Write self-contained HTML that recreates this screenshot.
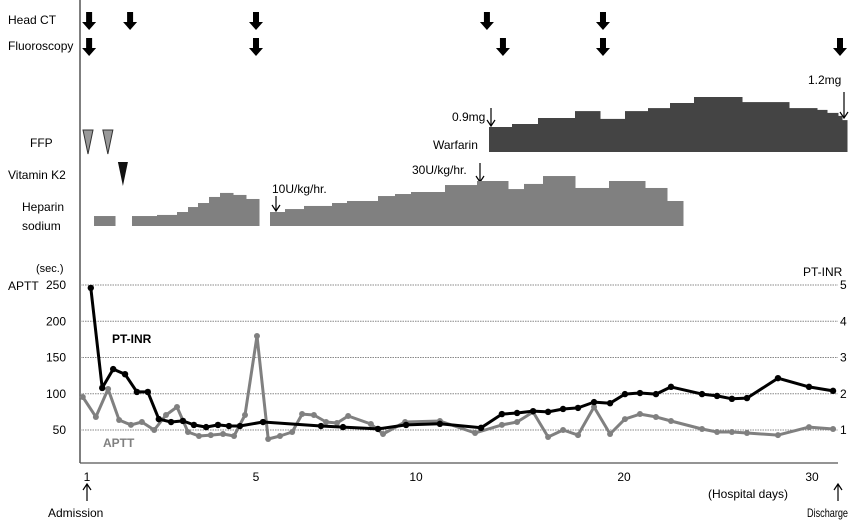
<!DOCTYPE html>
<html><head><meta charset="utf-8">
<style>
html,body{margin:0;padding:0;background:#fff;}
svg{display:block;font-family:"Liberation Sans",sans-serif;font-size:12px;}
</style></head>
<body>
<svg id="chart" width="850" height="524" viewBox="0 0 850 524" xmlns="http://www.w3.org/2000/svg">
<g id="static">
<line x1="80" y1="0" x2="80" y2="463" stroke="#555" stroke-width="1.5"/>
<line x1="80" y1="463" x2="838" y2="463" stroke="#555" stroke-width="1.2"/>
<text x="8" y="24">Head CT</text>
<text x="8" y="50">Fluoroscopy</text>
<text x="30" y="147">FFP</text>
<text x="8" y="179">Vitamin K2</text>
<text x="22" y="211">Heparin</text>
<text x="22" y="230">sodium</text>
<text x="433" y="149">Warfarin</text>
<text x="452" y="121">0.9mg</text>
<path d="M491,108 V126 M487,120 L491,126 L495,120" fill="none" stroke="#000" stroke-width="1.2"/>
<text x="808" y="84">1.2mg</text>
<path d="M844,92 V118 M840,112 L844,118 L848,112" fill="none" stroke="#000" stroke-width="1.2"/>
<text x="272" y="193">10U/kg/hr.</text>
<path d="M276,196 V211 M272,205 L276,211 L280,205" fill="none" stroke="#000" stroke-width="1.2"/>
<text x="412" y="174">30U/kg/hr.</text>
<path d="M480,163 V182 M476,176 L480,182 L484,176" fill="none" stroke="#000" stroke-width="1.2"/>
<text x="8" y="290">APTT</text>
<text x="36" y="272" font-size="11">(sec.)</text>
<text x="803" y="276">PT-INR</text>
<text x="112" y="343" font-weight="bold">PT-INR</text>
<text x="103" y="447" fill="#808080" font-weight="bold">APTT</text>
<text x="708" y="498">(Hospital days)</text>
<path d="M87,501 V484 M83,490 L87,484 L91,490" fill="none" stroke="#000" stroke-width="1.2"/>
<text x="48" y="517">Admission</text>
<path d="M838,501 V484 M834,490 L838,484 L842,490" fill="none" stroke="#000" stroke-width="1.2"/>
<text x="848" y="517" text-anchor="end" textLength="41" lengthAdjust="spacingAndGlyphs">Discharge</text>
</g>
<g id="dyn"></g>
</svg>
<script>
const dayTicks=[1,5,10,20,30];
const dayTickPx=[87,256,416,624,812];
const apttTicks=[250,200,150,100,50];
const inrTicks=[5,4,3,2,1];
const headCtDays=[1.05,2.02,5,13.41,18.99];
const fluoroDays=[1.05,5,14.18,18.99,31.49];
const inrDays=[1.09,1.36,1.62,1.9,2.18,2.44,2.7,2.99,3.27,3.53,3.82,4.1,4.36,4.62,5.22,7.03,7.72,8.81,9.69,11.15,13.13,14.13,14.86,15.63,16.35,17.07,17.79,18.56,19.33,20.05,20.85,21.7,22.5,24.15,24.95,25.74,26.54,28.19,29.84,31.12];
const inrValues=[4.92,2.16,2.68,2.54,2.05,2.05,1.3,1.22,1.25,1.14,1.08,1.14,1.11,1.11,1.22,1.11,1.08,1.03,1.14,1.17,1.06,1.44,1.47,1.52,1.5,1.58,1.61,1.77,1.74,1.99,2.02,1.99,2.19,1.99,1.94,1.86,1.88,2.43,2.19,2.08];
const apttDays=[0.9,1.21,1.5,1.76,2.04,2.3,2.59,2.87,3.13,3.39,3.65,3.93,4.22,4.48,4.74,5.03,5.38,5.75,6.13,6.44,6.81,7.19,7.53,7.88,8.59,8.97,9.66,11.15,12.84,14.13,14.86,15.63,16.35,17.07,17.79,18.56,19.33,20.05,20.85,21.7,22.5,24.15,24.95,25.74,26.54,28.19,29.84,31.12];
const apttValues=[95.5,68,106.6,63.8,57,61,50,70.7,81.7,47.2,41.7,43,44.5,41.7,70.7,179.7,37.6,41.7,47.2,72,70.7,61,59.7,69.3,58.3,44.5,61,62.4,45.9,57,61,74.8,40.3,50,43,81.7,44.5,65,72,68,62.4,51.4,47.2,47.2,45.9,43,54,51.4];
const hepStart=[1.166,2.065,2.657,3.130,3.391,3.627,3.888,4.148,4.456,4.763,5.4375,5.906,6.5,7.375,7.844,8.8125,9.344,9.844,11.394,12.933,14.423,15.192,16.106,17.644,19.279,21.117,22.287];
const hepEnd=[1.663,2.657,3.130,3.391,3.627,3.888,4.148,4.456,4.763,5.094,5.906,6.5,7.375,7.844,8.8125,9.344,9.844,11.394,12.933,14.423,15.192,16.106,17.644,19.279,21.117,22.287,23.138];
const hepDose=[7.4,7.4,8.1,10,13.2,15.8,19.7,22.3,21,18.4,10,11.9,13.9,15.8,17.1,20.3,21.6,22.9,27.4,30,24.8,28.1,33.2,25.5,30,25.5,17.1];
const warStart=[13.51,14.615,15.865,17.644,18.846,20.053,21.277,22.447,23.723,26.277,28.777,30.266,30.798,31.383,31.596];
const warEnd=[14.615,15.865,17.644,18.846,20.053,21.277,22.447,23.723,26.277,28.777,30.266,30.798,31.383,31.596,31.862];
const warDose=[0.9,1.0,1.2,1.43,1.17,1.43,1.53,1.7,1.9,1.73,1.53,1.47,1.37,1.27,1.13];
const ffpDays=[1.0,1.47];
const vitK2Days=[1.85];

function xScale(d){
  for(let i=0;i<dayTicks.length-1;i++){
    if(d<=dayTicks[i+1]||i===dayTicks.length-2){
      const t=(d-dayTicks[i])/(dayTicks[i+1]-dayTicks[i]);
      return dayTickPx[i]+t*(dayTickPx[i+1]-dayTickPx[i]);
    }
  }
}
function yAptt(v){return 430-(v-50)*0.725;}
function yInr(v){return 430-(v-1)*36.25;}
function yHepS(v){return 212-(v-10)*1.55;}
function yWar(v){return 127-(v-0.9)*30;}

const NS="http://www.w3.org/2000/svg";
const g=document.getElementById('dyn');
function mk(tag,attrs){const e=document.createElementNS(NS,tag);for(const k in attrs)e.setAttribute(k,attrs[k]);g.appendChild(e);return e;}

apttTicks.forEach(v=>{
  const y=yAptt(v);
  const l=mk('line',{x1:80,y1:y,x2:838,y2:y,stroke:'#888','stroke-width':1,'stroke-dasharray':'1.5,1'});
  
  
  const t=mk('text',{x:66,y:y+4,'text-anchor':'end'});t.textContent=v;
  
  
});
inrTicks.forEach(v=>{
  const t=mk('text',{x:840,y:yInr(v)+4});t.textContent=v;
  
  
});
dayTicks.forEach(d=>{
  const t=mk('text',{x:xScale(d),y:481,'text-anchor':'middle'});t.textContent=d;
  
  
});

function blockArrow(x,y,name){
  const p=mk('path',{d:`M${x-3},${y} h6 v10 h4 l-7,8 l-7,-8 h4 z`,fill:'#000'});
  
  
}
headCtDays.forEach(d=>blockArrow(xScale(d),12,'head-ct-arrow'));
fluoroDays.forEach(d=>blockArrow(Math.min(xScale(d),840),38,'fluoroscopy-arrow'));
ffpDays.forEach(d=>{
  const x=xScale(d)+1;
  const p=mk('path',{d:`M${x-5},130 L${x+5},130 L${x},154 Z`,fill:'#999',stroke:'#333','stroke-width':1});
  
  
});
vitK2Days.forEach(d=>{
  const x=xScale(d);
  const p=mk('path',{d:`M${x-5},162 L${x+5},162 L${x},186 Z`,fill:'#111'});
  
  
});

hepDose.forEach((v,i)=>{
  const x0=xScale(hepStart[i]),x1=xScale(hepEnd[i]);const y=yHepS(v);
  const r=mk('rect',{x:x0,y:y,width:x1-x0+0.5,height:226-y,fill:'#808080'});
  
  
});
warDose.forEach((v,i)=>{
  const x0=xScale(warStart[i]),x1=xScale(warEnd[i]);const y=yWar(v);
  const r=mk('rect',{x:x0,y:y,width:x1-x0+0.5,height:152-y,fill:'#444'});
  
  
});

function series(days,vals,ys,color,name,rad){
  const pts=days.map((d,i)=>xScale(d).toFixed(1)+','+ys(vals[i]).toFixed(1)).join(' ');
  const pl=mk('polyline',{points:pts,fill:'none',stroke:color,'stroke-width':3,'stroke-linejoin':'round'});
  
  
  days.forEach((d,i)=>{
    const c=mk('circle',{cx:xScale(d),cy:ys(vals[i]),r:rad,fill:color});
    
    
  });
}
series(apttDays,apttValues,yAptt,'#808080','aptt',3);
series(inrDays,inrValues,yInr,'#000','pt-inr',3.2);
</script>
</body></html>
